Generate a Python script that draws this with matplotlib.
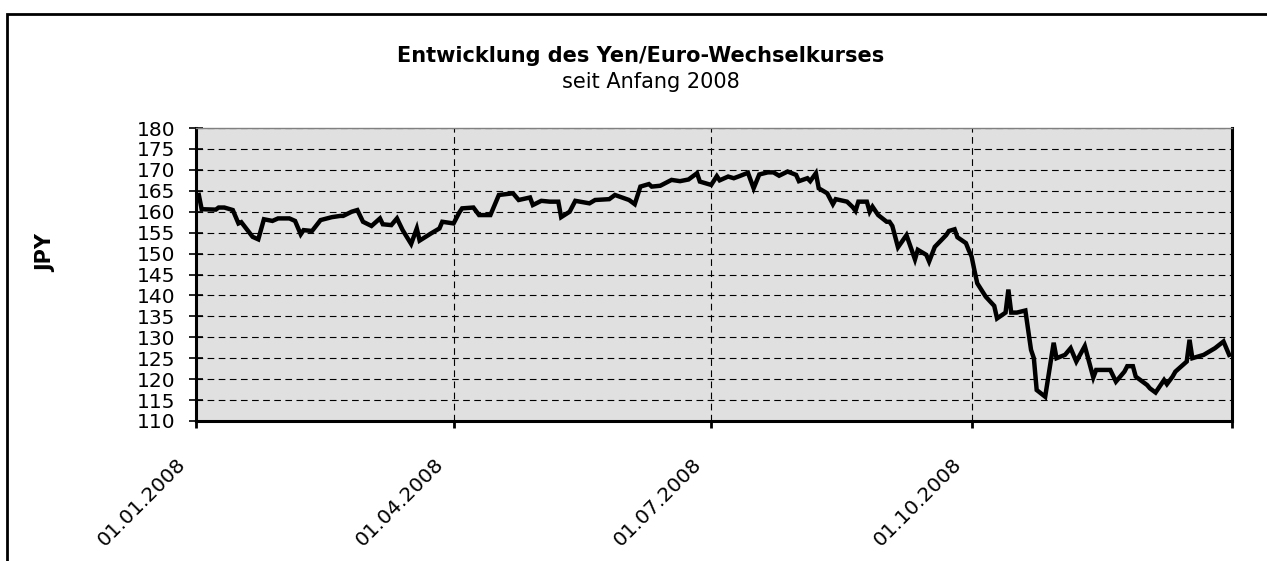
import matplotlib.pyplot as plt
from matplotlib.patches import Rectangle
from matplotlib.transforms import ScaledTranslation
import pandas as pd

plt.rcParams['font.family'] = ['DejaVu Sans']

# -----------------------------------------------------------------------------
# DATA
# -----------------------------------------------------------------------------
dates = [
    "2008-01-02", "2008-01-03", "2008-01-08", "2008-01-09", "2008-01-11", "2008-01-14",
    "2008-01-16", "2008-01-17", "2008-01-21", "2008-01-23", "2008-01-25", "2008-01-28",
    "2008-01-30", "2008-02-03", "2008-02-05", "2008-02-07", "2008-02-08", "2008-02-11",
    "2008-02-14", "2008-02-18", "2008-02-21", "2008-02-22", "2008-02-25", "2008-02-27",
    "2008-02-29", "2008-03-03", "2008-03-06", "2008-03-07", "2008-03-10", "2008-03-12",
    "2008-03-14", "2008-03-17", "2008-03-19", "2008-03-20", "2008-03-24", "2008-03-27",
    "2008-03-28", "2008-04-01", "2008-04-03", "2008-04-04", "2008-04-08", "2008-04-10",
    "2008-04-14", "2008-04-17", "2008-04-22", "2008-04-24", "2008-04-28", "2008-04-29",
    "2008-05-02", "2008-05-05", "2008-05-08", "2008-05-09", "2008-05-12", "2008-05-14",
    "2008-05-19", "2008-05-21", "2008-05-26", "2008-05-28", "2008-06-02", "2008-06-04",
    "2008-06-06", "2008-06-09", "2008-06-10", "2008-06-13", "2008-06-17", "2008-06-20",
    "2008-06-23", "2008-06-26", "2008-06-27", "2008-07-01", "2008-07-03", "2008-07-04",
    "2008-07-07", "2008-07-09", "2008-07-11", "2008-07-14", "2008-07-16", "2008-07-18",
    "2008-07-21", "2008-07-23", "2008-07-25", "2008-07-28", "2008-07-31", "2008-08-01",
    "2008-08-04", "2008-08-05", "2008-08-07", "2008-08-08", "2008-08-11", "2008-08-13",
    "2008-08-14", "2008-08-18", "2008-08-20", "2008-08-21", "2008-08-22", "2008-08-25",
    "2008-08-26", "2008-08-27", "2008-08-29", "2008-09-01", "2008-09-02", "2008-09-03",
    "2008-09-05", "2008-09-08", "2008-09-11", "2008-09-12", "2008-09-15", "2008-09-16",
    "2008-09-18", "2008-09-22", "2008-09-23", "2008-09-25", "2008-09-26", "2008-09-29",
    "2008-09-30", "2008-10-01", "2008-10-02", "2008-10-03", "2008-10-06", "2008-10-09",
    "2008-10-10", "2008-10-13", "2008-10-14", "2008-10-15", "2008-10-17", "2008-10-20",
    "2008-10-22", "2008-10-23", "2008-10-24", "2008-10-27", "2008-10-30", "2008-10-31",
    "2008-11-03", "2008-11-05", "2008-11-07", "2008-11-10", "2008-11-13", "2008-11-14",
    "2008-11-19", "2008-11-21", "2008-11-24", "2008-11-25", "2008-11-27", "2008-11-28",
    "2008-12-02", "2008-12-03", "2008-12-05", "2008-12-08", "2008-12-09", "2008-12-11",
    "2008-12-12", "2008-12-16", "2008-12-17", "2008-12-18", "2008-12-22", "2008-12-26",
    "2008-12-29", "2008-12-31",
]
jpy = [
    164.0, 160.6, 160.5, 161.0, 161.0, 160.4,
    157.2, 157.5, 154.0, 153.4, 158.2, 157.8,
    158.4, 158.4, 157.8, 154.6, 155.6, 155.4,
    158.0, 158.7, 159.0, 159.0, 160.0, 160.4,
    157.6, 156.6, 158.4, 157.0, 156.8, 158.4,
    155.6, 152.3, 156.0, 153.1, 154.8, 156.0,
    157.6, 157.2, 159.8, 160.8, 161.0, 159.2,
    159.2, 164.0, 164.4, 162.8, 163.4, 161.6,
    162.6, 162.4, 162.4, 158.7, 160.0, 162.6,
    162.0, 162.8, 163.0, 164.0, 162.8, 161.8,
    166.0, 166.6, 166.0, 166.2, 167.6, 167.3,
    167.7, 169.2, 167.2, 166.4, 168.5, 167.5,
    168.4, 168.0, 168.5, 169.3, 165.6, 168.9,
    169.4, 169.4, 168.6, 169.6, 168.8, 167.3,
    168.0, 167.3, 169.2, 165.6, 164.4, 161.8,
    163.0, 162.4, 161.1, 160.2, 162.4, 162.4,
    160.0, 161.2, 159.2, 157.6, 157.6, 156.6,
    151.5, 154.4, 148.6, 150.9, 149.7, 148.1,
    151.6, 154.4, 155.4, 155.8, 153.9, 152.5,
    150.8, 149.3, 146.0, 142.9, 139.7, 137.5,
    134.5, 135.9, 141.4, 135.9, 135.9, 136.4,
    127.0, 125.0, 117.4, 115.8, 128.7, 125.0,
    125.8, 127.4, 124.2, 127.9, 120.4, 122.2,
    122.2, 119.4, 121.8, 123.1, 123.1, 120.6,
    118.6, 117.8, 116.8, 119.8, 118.8, 120.6,
    121.8, 124.2, 129.4, 125.0, 125.8, 127.4,
    129.0, 125.8,
]
tick_dates = ["2008-01-01", "2008-04-01", "2008-07-01", "2008-10-01", "2009-01-01"]
tick_labels = ["01.01.2008", "01.04.2008", "01.07.2008", "01.10.2008", ""]

x = pd.to_datetime(dates)
ticks = pd.to_datetime(tick_dates)

# -----------------------------------------------------------------------------
# PLOT
# -----------------------------------------------------------------------------
fig = plt.figure(figsize=(12.67, 5.61), dpi=100)
# outer frame, cut off at right and bottom like the original
fig.patches.append(Rectangle((7 / 1267, -0.1), 1.2, 1 - 14 / 561 + 0.1,
                             transform=fig.transFigure, fill=False,
                             edgecolor='black', linewidth=2.0))

ax = fig.add_axes([196 / 1267, 1 - 421 / 561, (1232 - 196) / 1267, (421 - 128) / 561])
ax.set_facecolor('#e0e0e0')

ax.plot(x, jpy, color='black', linewidth=3.2, solid_joinstyle='miter')

ax.set_xlim(ticks[0], ticks[-1])
ax.set_ylim(110, 180)
ax.set_yticks(range(110, 181, 5))
ax.set_xticks(ticks)
ax.set_xticklabels(tick_labels, rotation=45, ha='right', va='center',
                   rotation_mode='anchor', fontsize=14.5)
ax.tick_params(axis='y', labelsize=14.5, direction='inout', length=10, width=1.2, pad=10)
ax.tick_params(axis='x', direction='out', length=5, width=2, pad=24)

# shift date labels a little to the left of their ticks
shift = ScaledTranslation(-13 / 100, 0, fig.dpi_scale_trans)
for lab in ax.get_xticklabels():
    lab.set_transform(lab.get_transform() + shift)

ax.grid(True, axis='both', color='black', linestyle=(0, (6, 4)), linewidth=0.8)

for side in ['left', 'bottom', 'right']:
    ax.spines[side].set_linewidth(2.2)
ax.spines['top'].set_color('#808080')
ax.spines['top'].set_linewidth(1)

fig.text(46 / 1267, 1 - 253 / 561, 'JPY', rotation=90, ha='center', va='center',
         fontsize=15, fontweight='bold')

fig.text(641 / 1267, 1 - 56 / 561, 'Entwicklung des Yen/Euro-Wechselkurses',
         ha='center', va='center', fontsize=15, fontweight='bold')
fig.text(651 / 1267, 1 - 82 / 561, 'seit Anfang 2008', ha='center', va='center', fontsize=15)

fig.savefig('out.png', dpi=100)
